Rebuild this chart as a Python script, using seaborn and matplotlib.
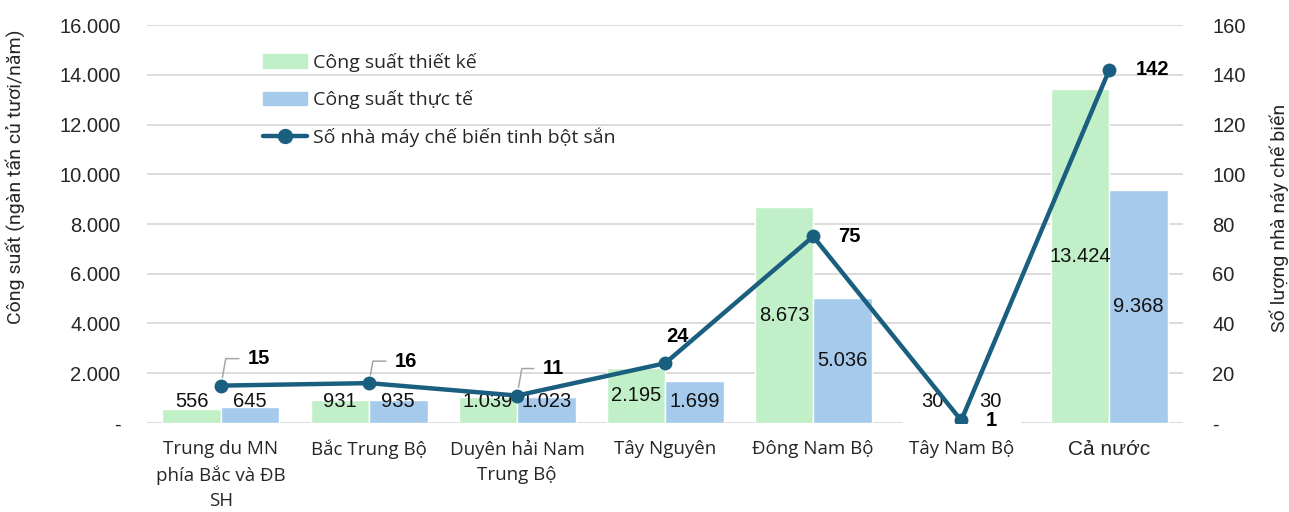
import matplotlib
matplotlib.use("Agg")
import matplotlib.pyplot as plt
import numpy as np
import pandas as pd
import seaborn as sns
from matplotlib.patches import Patch
from matplotlib.lines import Line2D

regions = ["Trung du MN\nphía Bắc và ĐB\nSH", "Bắc Trung Bộ", "Duyên hải Nam\nTrung Bộ",
           "Tây Nguyên", "Đông Nam Bộ", "Tây Nam Bộ", "Cả nước"]
design_cap = [556, 931, 1039, 2195, 8673, 30, 13424]
actual_cap = [645, 935, 1023, 1699, 5036, 30, 9368]
n_factories = [15, 16, 11, 24, 75, 1, 142]

lbl_design = "Công suất thiết kế"
lbl_actual = "Công suất thực tế"
lbl_line = "Số nhà máy chế biến tinh bột sắn"

green = "#C1F0C8"
blue = "#A6CAEC"
line_c = "#1B5F80"

df = pd.DataFrame({
    "region": regions * 2,
    "value": design_cap + actual_cap,
    "series": [lbl_design] * len(regions) + [lbl_actual] * len(regions),
})

sns.set_theme(style="white")
plt.rcParams["font.family"] = ["Open Sans", "DejaVu Sans"]

fig = plt.figure(figsize=(12.89, 5.12), dpi=100)
ax = fig.add_axes([0.114, 0.174, 0.804, 0.777])
ax2 = ax.twinx()

sns.barplot(data=df, x="region", y="value", hue="series", ax=ax,
            palette=[green, blue], width=0.79, saturation=1, legend=False)
sns.lineplot(x=np.arange(len(regions)), y=n_factories, ax=ax2, color=line_c,
             lw=3.2, marker="o", markersize=10, markeredgewidth=0, legend=False)

ax.set_xlim(-0.5, len(regions) - 0.5)
ax.set_ylim(0, 16000)
ax2.set_ylim(0, 160)
ax.set_yticks(np.arange(0, 16001, 2000))
ax2.set_yticks(np.arange(0, 161, 20))
ax.set_yticklabels(["-" if v == 0 else f"{v:,}".replace(",", ".") for v in range(0, 16001, 2000)],
                   family="Liberation Sans", fontsize=14.5)
ax2.set_yticklabels(["-" if v == 0 else str(v) for v in range(0, 161, 20)],
                    family="Liberation Sans", fontsize=14.5)
ax.grid(axis="y", color="#d9d9d9", lw=1.3)
ax.set_axisbelow(True)
for a in (ax, ax2):
    for s in a.spines.values():
        s.set_visible(False)
    a.tick_params(length=0)
ax.tick_params(axis="y", pad=19)
ax2.tick_params(axis="y", pad=21)
ax.tick_params(axis="x", pad=12)
ax.set_xticks(range(len(regions)))
ax.set_xticklabels(regions, fontsize=13.5, linespacing=1.5, va="top")
last = ax.get_xticklabels()[-1]
last.set_family("Liberation Sans")
last.set_fontsize(15)
ax.set_xlabel("")

ax.set_ylabel("Công suất (ngàn tấn củ tươi/năm)", family="Roboto", fontsize=14)
ax.yaxis.set_label_coords(-0.118, 0.62)
ax2.set_ylabel("Số lượng nhà náy chế biến", family="Roboto", fontsize=14)
ax2.yaxis.set_label_coords(1.083, 0.515)

# bar value labels
off = 0.79 / 4
for i in range(len(regions)):
    for v, dx in ((design_cap[i], -off), (actual_cap[i], off)):
        ax.text(i + dx, max(v / 2, 850), f"{v:,}".replace(",", "."), ha="center", va="center",
                family="Liberation Sans", fontsize=14.5, color="#111111")

# line labels
offsets = [(38, 27), (37, 22), (36, 27), (12, 27), (36, 0), (30, 0), (43, 0)]
leader = [True, True, True, False, False, False, False]
for i, n in enumerate(n_factories):
    kw = {}
    if leader[i]:
        kw["arrowprops"] = dict(arrowstyle="-", color="#a6a6a6", lw=1.1,
                                connectionstyle="angle,angleA=0,angleB=80",
                                relpos=(0, 0.5), shrinkA=4, shrinkB=6)
    ax2.annotate(str(n), (i, n), xytext=offsets[i], textcoords="offset pixels",
                 ha="center", va="center", fontsize=14.5, fontweight="bold",
                 family="Liberation Sans", color="black", **kw)

handles = [Patch(color=green), Patch(color=blue),
           Line2D([], [], color=line_c, lw=3.2, marker="o", markersize=10)]
ax.legend(handles, [lbl_design, lbl_actual, lbl_line], loc="upper left",
          bbox_to_anchor=(0.104, 0.95), frameon=False, fontsize=14,
          handlelength=2.3, handleheight=0.7, handletextpad=0.3, labelspacing=0.95,
          borderaxespad=0)

fig.savefig("out.png", dpi=100)
